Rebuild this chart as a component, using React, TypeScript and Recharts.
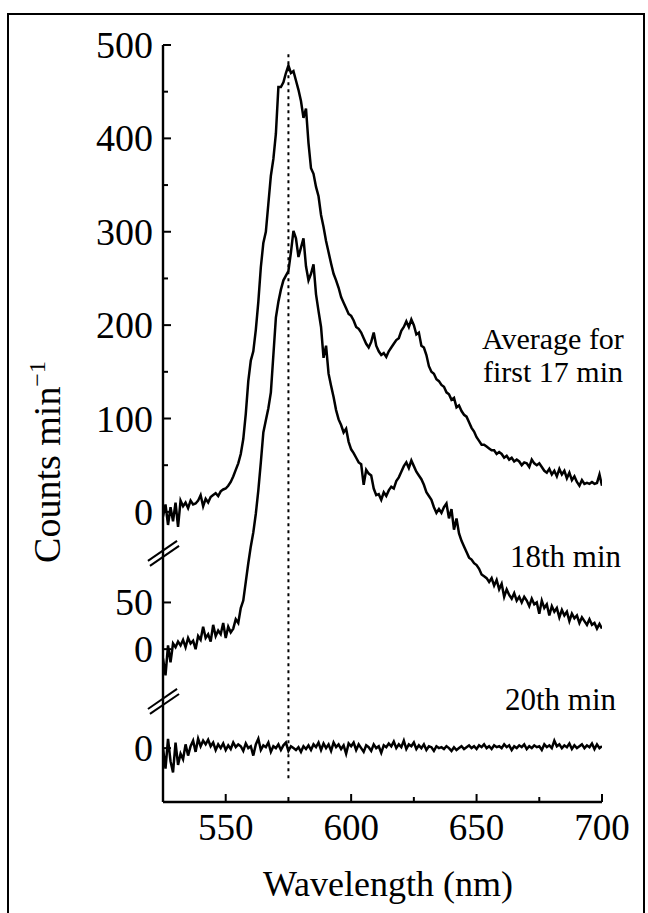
import React from 'react';
import { ComposedChart, Line, XAxis, YAxis, ReferenceLine } from 'recharts';

// spectra sampled every 1 nm from 525 to 700 nm
const WL_START = 525;

// Average for first 17 min (counts/min)
const avgFirst17 = [
  -5, 8, -14, 5, -10, 10, -16, 12, 6, 10,
  4, 12, 8, 9, 12, 18, 6, 14, 10, 16,
  18, 20, 17, 22, 24, 25, 28, 32, 38, 45,
  52, 62, 78, 105, 140, 162, 172, 195, 225, 262,
  288, 300, 330, 360, 378, 405, 455, 455, 460, 470,
  478, 470, 472, 462, 452, 440, 422, 432, 395, 368,
  362, 348, 338, 318, 305, 290, 278, 266, 255, 248,
  240, 230, 224, 218, 212, 210, 205, 198, 196, 192,
  186, 180, 176, 182, 192, 178, 172, 168, 170, 166,
  172, 176, 180, 184, 186, 194, 198, 204, 198, 206,
  200, 190, 192, 178, 176, 168, 156, 150, 148, 142,
  140, 136, 134, 128, 126, 120, 122, 112, 114, 108,
  104, 102, 96, 90, 86, 80, 76, 72, 72, 70,
  68, 66, 66, 62, 64, 62, 58, 60, 56, 58,
  54, 56, 54, 50, 53, 52, 48, 56, 52, 50,
  52, 48, 44, 42, 46, 40, 44, 38, 46, 40,
  44, 36, 42, 34, 38, 32, 28, 34, 30, 31,
  30, 32, 30, 31, 40, 28,
];

// 18th min
const min18 = [
  -10, -28, 4, -14, 6, 2, 8, 4, 10, 2,
  12, 6, 9, 0, 14, 10, 24, 12, 16, 8,
  26, 14, 20, 16, 28, 12, 24, 18, 22, 32,
  28, 44, 52, 72, 92, 110, 125, 145, 170, 200,
  232, 245, 258, 275, 315, 355, 372, 385, 395, 400,
  405, 425, 448, 440, 420, 430, 440, 410, 395, 402,
  412, 380, 362, 345, 312, 325, 295, 282, 270, 256,
  246, 240, 232, 236, 222, 214, 210, 205, 200, 198,
  176, 192, 188, 186, 172, 165, 166, 160, 168, 164,
  170, 174, 172, 180, 184, 190, 196, 200, 194, 202,
  196, 190, 186, 182, 176, 168, 164, 160, 152, 146,
  150, 146, 152, 156, 140, 150, 128, 140, 124, 116,
  110, 104, 98, 96, 92, 90, 86, 80, 78, 76,
  72, 76, 68, 74, 64, 70, 56, 64, 58, 54,
  60, 52, 56, 50, 56, 52, 46, 54, 48, 50,
  38, 52, 44, 48, 36, 46, 40, 44, 34, 42,
  36, 40, 30, 38, 33, 36, 28, 34, 30, 26,
  32, 26, 28, 22, 27, 22,
];

// 20th min
const min20 = [
  0, -22, 10, -14, -26, 6, -18, -6, -12, 4,
  -8, 2, 8, -4, 10, 2, 8, 4, 9, 2,
  6, -2, 4, 0, 5, -2, 3, -1, 6, 1,
  4, 2, -3, 5, 0, 2, -8, 4, 10, -2,
  3, 1, 6, -4, 2, 0, 4, -2, 3, 6,
  -3, 2, 0, -2, 1, -4, 2, -1, 3, -2,
  4, 1, 6, -2, 5, 0, 4, -3, 6, 1,
  4, -1, 3, -6, 5, 2, 6, -2, 4, 0,
  -4, 3, 1, -3, 4, 0, 2, -5, 3, 1,
  5, 2, 7, 0, 4, 1, 8, -1, 4, 2,
  6, -1, 3, 0, 4, -2, 2, 1, -3, 2,
  0, 1, -1, 2, 0, -3, 1, -2, 0, 2,
  -1, 1, 3, 0, 2, -1, 3, 1, 4, 0,
  2, -1, 3, 1, 2, 0, 4, 1, 3, -2,
  2, 0, 3, 1, 4, -1, 2, 0, 3, 1,
  2, -2, 4, 1, 3, 0, 8, 2, 4, 0,
  3, 1, 5, -1, 3, 0, 2, 4, 0, 3,
  1, 5, -1, 4, 0, 2,
];

// vertical offsets of the stacked (broken axis) panels
const OFFSET_18 = -147;
const OFFSET_20 = -253;
const Y_MIN = -310.7;

const xTicks = [550, 575, 600, 625, 650, 675, 700];
const xTickLabels = ['550', '', '600', '', '650', '', '700'];
const yTicks = [-253, -147, -97, 0, 50, 100, 150, 200, 250, 300, 350, 400, 450, 500];
const yTickLabels = ['0', '0', '50', '0', '', '100', '', '200', '', '300', '', '400', '', '500'];

const PEAK_NM = 575;

const data = avgFirst17.map((v, i) => ({
  nm: WL_START + i,
  avg: v,
  m18: min18[i] + OFFSET_18,
  m20: min20[i] + OFFSET_20,
}));

const FONT = '"Liberation Serif", "DejaVu Serif", serif';

const YTick = (props: any) => {
  const { x, y, payload } = props;
  const idx = yTicks.indexOf(payload.value);
  const label = idx >= 0 ? yTickLabels[idx] : '';
  return (
    <g>
      <line x1={x} x2={x + (label ? 8 : 5)} y1={y} y2={y} stroke="#000" strokeWidth={2} />
      {label && (
        <text x={x - 10} y={y} dy={13} textAnchor="end" fontFamily={FONT} fontSize={38} fill="#000">
          {label}
        </text>
      )}
    </g>
  );
};

const XTick = (props: any) => {
  const { x, y, payload } = props;
  const idx = xTicks.indexOf(payload.value);
  const label = idx >= 0 ? xTickLabels[idx] : '';
  return (
    <g>
      <line x1={x} x2={x} y1={y} y2={y - (label ? 8 : 5)} stroke="#000" strokeWidth={2} />
      {label && (
        <text x={x} y={y + 38} textAnchor="middle" fontFamily={FONT} fontSize={37} fill="#000">
          {label}
        </text>
      )}
    </g>
  );
};

// axis break marks "//" (in data units, drawn past the axis)
const breaks = [
  [[519.0, -52.5], [530.6, -31.1]],
  [[519.8, -57.9], [531.4, -36.4]],
  [[519.0, -211.1], [530.6, -189.6]],
  [[519.8, -216.4], [531.4, -195.0]],
];

export default function App() {
  return (
    <div style={{ position: 'absolute', left: 0, top: 0, width: 648, height: 913, background: '#fff', overflow: 'hidden' }}>
      <ComposedChart
        width={648}
        height={913}
        data={data}
        margin={{ top: 45, right: 46, bottom: 0, left: 0 }}
      >
        <XAxis
          dataKey="nm"
          type="number"
          domain={[525, 700]}
          ticks={xTicks}
          interval={0}
          height={111}
          tickSize={0}
          tickMargin={0}
          tick={<XTick />}
          axisLine={{ stroke: '#000', strokeWidth: 2.4 }}
          allowDataOverflow
        />
        <YAxis
          type="number"
          domain={[Y_MIN, 500]}
          ticks={yTicks}
          interval={0}
          width={163}
          tickSize={0}
          tickMargin={0}
          tick={<YTick />}
          axisLine={{ stroke: '#000', strokeWidth: 2.4 }}
          allowDataOverflow
        />
        <ReferenceLine
          segment={[{ x: PEAK_NM, y: 490 }, { x: PEAK_NM, y: -287 }]}
          stroke="#000"
          strokeWidth={2}
          strokeDasharray="3 4"
          ifOverflow="visible"
        />
        {breaks.map((b, i) => (
          <ReferenceLine
            key={i}
            segment={[{ x: b[0][0], y: b[0][1] }, { x: b[1][0], y: b[1][1] }]}
            stroke="#000"
            strokeWidth={2}
            ifOverflow="visible"
          />
        ))}
        <Line dataKey="avg" type="linear" stroke="#000" strokeWidth={2.5} dot={false} isAnimationActive={false} />
        <Line dataKey="m18" type="linear" stroke="#000" strokeWidth={2.5} dot={false} isAnimationActive={false} />
        <Line dataKey="m20" type="linear" stroke="#000" strokeWidth={2.5} dot={false} isAnimationActive={false} />
      </ComposedChart>
      <svg width={648} height={913} style={{ position: 'absolute', left: 0, top: 0, pointerEvents: 'none' }}>
        <polyline points="8,913 8,14 644,14 644,913" fill="none" stroke="#000" strokeWidth={2} />
        <g fontFamily={FONT} fill="#000">
          <text x={482} y={349} fontSize={30}>Average for</text>
          <text x={483} y={382} fontSize={30}>first 17 min</text>
          <text x={510} y={567} fontSize={31}>18th min</text>
          <text x={505} y={710} fontSize={31}>20th min</text>
          <text x={388} y={896} fontSize={36} textAnchor="middle">Wavelength (nm)</text>
          <text x={60} y={462} fontSize={38} textAnchor="middle" transform="rotate(-90 60 462)">
            Counts min<tspan dy={-15} fontSize={24}>−1</tspan>
          </text>
        </g>
      </svg>
    </div>
  );
}
